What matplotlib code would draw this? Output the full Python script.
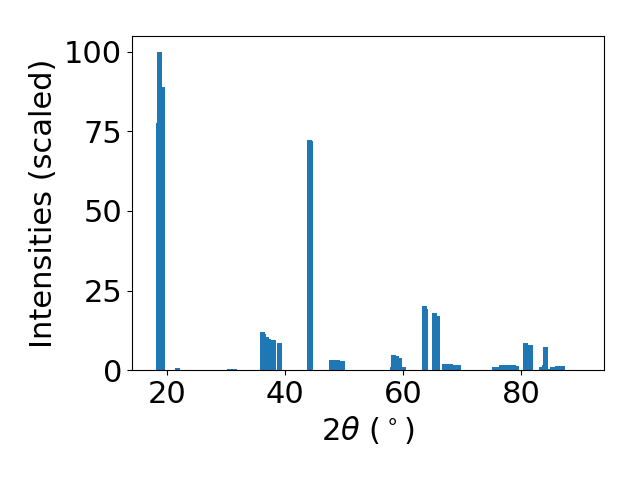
import numpy as np
import matplotlib
matplotlib.use('Agg')
import matplotlib.pyplot as plt

# peak positions (2theta, deg) and scaled intensities
two_theta = [18.64, 18.83, 19.26, 21.8, 30.59, 31.52,
             36.17, 36.46, 36.88, 37.22, 38.07, 39.15,
             44.2, 44.4, 47.95, 48.4, 49.0, 49.8,
             58.2, 58.37, 58.99, 59.5, 60.1,
             63.62, 63.83, 65.32, 65.86, 67.0, 67.5, 68.04, 68.9, 69.4,
             75.5, 76.0, 76.68, 77.37, 78.05, 78.75, 79.25, 80.75, 81.63,
             83.46, 83.96, 84.13, 84.5, 85.35, 86.2, 86.6, 87.05]
intensity = [77.6, 100.0, 88.9, 0.6, 0.3, 0.3,
             11.9, 11.2, 10.4, 9.75, 9.4, 8.5,
             72.3, 72.0, 3.2, 3.2, 3.1, 2.8,
             1.0, 4.7, 4.4, 3.8, 1.0,
             20.1, 19.2, 17.9, 17.0, 1.9, 1.9, 1.9, 1.6, 1.6,
             1.0, 1.0, 1.6, 1.6, 1.6, 1.6, 1.3, 8.5, 7.9,
             1.0, 1.6, 7.2, 0.4, 1.0, 1.3, 1.3, 1.3]

x_ticks = [20, 40, 60, 80]
y_ticks = [0, 25, 50, 75, 100]

x = np.array(two_theta)
y = np.array(intensity)
order = np.argsort(y, kind='stable')  # taller peaks drawn on top

fig = plt.figure(figsize=(6.4, 4.8), dpi=100)
ax = fig.add_subplot(111)
fig.subplots_adjust(left=0.206, right=0.944, top=0.925, bottom=0.229)

ax.bar(x[order], y[order], color='#1f77b4')
ax.set_xlim(14.1, 94.1)
ax.set_xticks(x_ticks)
ax.set_yticks(y_ticks)
ax.tick_params(labelsize=22)
ax.set_xlabel(r'2$\theta$ ($^\circ$)', fontsize=22)
ax.set_ylabel('Intensities (scaled)', fontsize=22)

plt.savefig('out.png', dpi=100)
